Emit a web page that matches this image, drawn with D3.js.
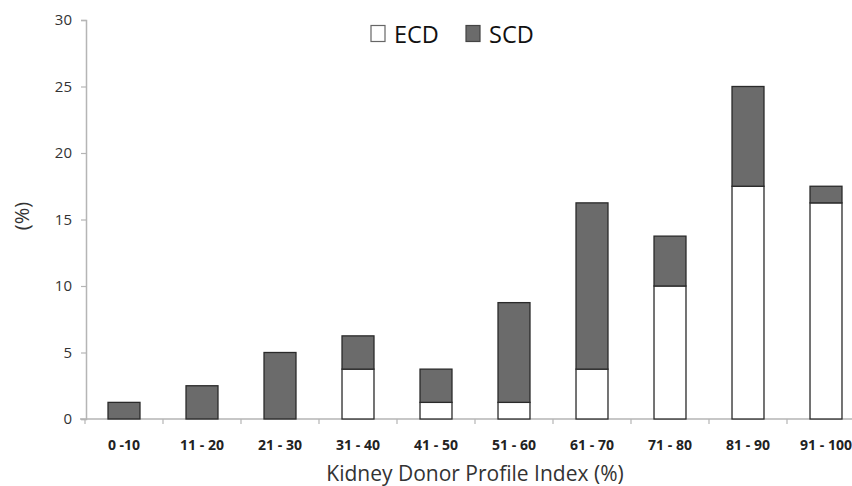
<!DOCTYPE html>
<html><head><meta charset="utf-8">
<script src="https://cdn.jsdelivr.net/npm/d3@7"></script>
<style>body{margin:0;background:#fff}svg{display:block}</style>
</head><body>
<script>
const categories = ["0 -10","11 - 20","21 - 30","31 - 40","41 - 50","51 - 60","61 - 70","71 - 80","81 - 90","91 - 100"];
const ecd = [0, 0, 0, 3.75, 1.25, 1.25, 3.75, 10, 17.5, 16.25];
const scd = [1.25, 2.5, 5, 2.5, 2.5, 7.5, 12.5, 3.75, 7.5, 1.25];
const yTicks = [0, 5, 10, 15, 20, 25, 30];
const seriesNames = ["ECD", "SCD"];
const colors = {ECD: "#ffffff", SCD: "#6b6b6b"};

const W = 852, H = 486;
const svg = d3.select("body").append("svg").attr("width", W).attr("height", H);
const font = "'Open Sans', 'Noto Sans', sans-serif";

const x = d3.scaleBand().domain(categories).range([85, 865]).paddingInner(0.59).paddingOuter(0.295);
const y = d3.scaleLinear().domain([0, 30]).range([419, 20]);

const rows = categories.map((c, i) => ({cat: c, ECD: ecd[i], SCD: scd[i]}));
const stack = d3.stack().keys(seriesNames)(rows);

// axes
const yAxis = svg.append("g").attr("transform", "translate(86,0)")
  .call(d3.axisLeft(y).tickValues(yTicks).tickSize(5).tickPadding(9));
yAxis.select(".domain").attr("stroke", "#b5b5b5").attr("stroke-width", 1.5);
yAxis.selectAll(".tick line").attr("stroke", "#b5b5b5").attr("stroke-width", 1.2);
yAxis.selectAll(".tick text").attr("font-family", font).attr("font-size", 15).attr("fill", "#333");

const xAxisScale = d3.scalePoint().domain(d3.range(11)).range([85, 865]);
const xAxis = svg.append("g").attr("transform", "translate(0,419)");
xAxis.append("line").attr("x1", 80).attr("x2", 865).attr("y1", 0).attr("y2", 0)
  .attr("stroke", "#b5b5b5").attr("stroke-width", 1.5);
xAxis.selectAll(".xt").data(d3.range(11)).join("line")
  .attr("x1", d => xAxisScale(d)).attr("x2", d => xAxisScale(d))
  .attr("y1", 0).attr("y2", 5).attr("stroke", "#b5b5b5").attr("stroke-width", 1.2);
xAxis.selectAll(".xl").data(categories).join("text")
  .attr("x", d => x(d) + x.bandwidth() / 2).attr("y", 31)
  .attr("text-anchor", "middle").attr("font-family", font).attr("font-size", 14)
  .attr("font-weight", "bold").attr("fill", "#222").text(d => d);

// bars
svg.append("g").selectAll("g").data(stack).join("g")
  .attr("fill", d => colors[d.key])
  .selectAll("rect").data(d => d.filter(p => p[1] - p[0] > 0)).join("rect")
  .attr("x", d => x(d.data.cat)).attr("width", x.bandwidth())
  .attr("y", d => y(d[1])).attr("height", d => y(d[0]) - y(d[1]))
  .attr("stroke", "#2a2a2a").attr("stroke-width", 1.3);

// titles
svg.append("text").attr("x", 475).attr("y", 481).attr("text-anchor", "middle")
  .attr("font-family", font).attr("font-size", 21).attr("fill", "#333")
  .text("Kidney Donor Profile Index (%)");
svg.append("text").attr("transform", "translate(29,216) rotate(-90)").attr("text-anchor", "middle")
  .attr("font-family", font).attr("font-size", 20).attr("fill", "#333").text("(%)");

// legend
const leg = svg.append("g");
const legItems = [{name: "ECD", x: 371}, {name: "SCD", x: 466}];
legItems.forEach(it => {
  leg.append("rect").attr("x", it.x).attr("y", 25.5).attr("width", 14).attr("height", 16)
    .attr("fill", colors[it.name]).attr("stroke", it.name === "ECD" ? "#666" : "#444").attr("stroke-width", 1.2);
  leg.append("text").attr("x", it.x + 23).attr("y", 42.5).attr("font-family", font)
    .attr("font-size", 23.5).attr("fill", "#111").text(it.name);
});
</script>
</body></html>
